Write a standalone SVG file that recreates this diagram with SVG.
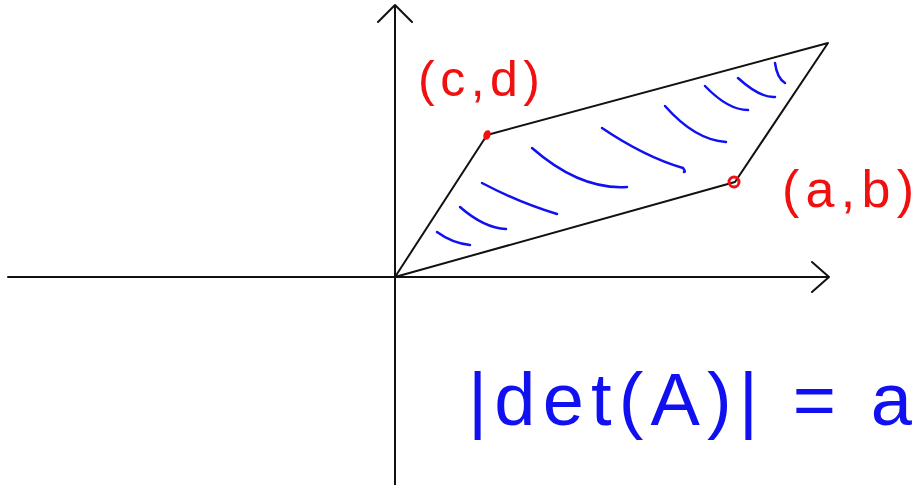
<svg xmlns="http://www.w3.org/2000/svg" width="919" height="485" viewBox="0 0 919 485">
<style>
.ax{stroke:#111;stroke-width:2;fill:none;stroke-linecap:round;stroke-linejoin:round}
.pg{stroke:#111;stroke-width:2;fill:none;stroke-linejoin:round}
.h{stroke:#1010f0;stroke-width:2.5;fill:none;stroke-linecap:round}
.r{fill:#f01010;font-family:"Liberation Sans","DejaVu Sans",sans-serif}
.b{fill:#1010f0;font-family:"Liberation Sans","DejaVu Sans",sans-serif}
</style>
<rect width="919" height="485" fill="#fff"/>
<g id="axes">
<path class="ax" d="M8 277 H829 M812 262 L829 277 L812 292"/>
<path class="ax" d="M395 485 V5 M378 22 L395 5 L412 22"/>
</g>
<g id="parallelogram">
<path class="pg" d="M395 277 L487 135 L828 43 L735 182 Z"/>
</g>
<g id="hatching">
<path class="h" d="M437 232 Q452 243 470 245"/>
<path class="h" d="M460 207 Q484 228 506 229"/>
<path class="h" d="M482 183 Q520 203 557 214"/>
<path class="h" d="M532 148 Q580 190 627 187"/>
<path class="h" d="M602 128 Q645 157 683 168 Q686 172 684 172"/>
<path class="h" d="M665 106 Q695 140 726 142"/>
<path class="h" d="M705 86 Q728 110 748 110"/>
<path class="h" d="M738 78 Q760 98 775 97"/>
<path class="h" d="M775 63 Q777 78 785 83"/>
</g>
<g id="point-cd">
<ellipse cx="487" cy="135" rx="3.5" ry="5" fill="#f01010" transform="rotate(20 487 135)"/>
<text class="r" x="418" y="96" font-size="50" textLength="122" lengthAdjust="spacing">(c,d)</text>
</g>
<g id="point-ab">
<circle cx="734" cy="182" r="5" fill="none" stroke="#f01010" stroke-width="3"/>
<text class="r" x="782" y="207" font-size="52" textLength="132" lengthAdjust="spacing">(a,b)</text>
</g>
<g id="formula">
<text class="b" x="468" y="425" font-size="74" textLength="444" lengthAdjust="spacing">|det(A)| = a</text>
</g>
</svg>
